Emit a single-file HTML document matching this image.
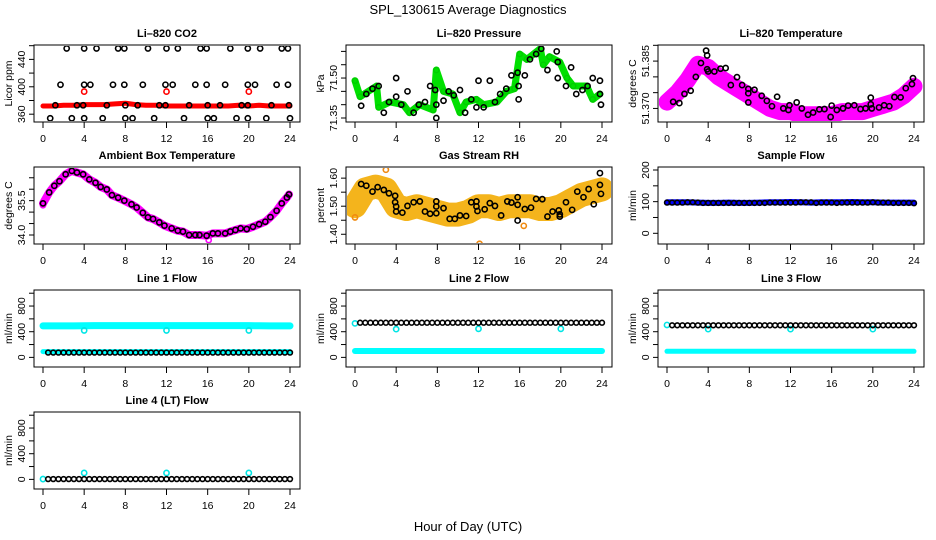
<!DOCTYPE html>
<html><head><meta charset="utf-8"><title>SPL_130615 Average Diagnostics</title>
<style>
html,body{margin:0;padding:0;background:#fff;}
svg{display:block;font-family:"Liberation Sans",Arial,sans-serif;}
</style></head>
<body>
<svg id="chart" width="936" height="540" viewBox="0 0 936 540">
<rect x="0" y="0" width="936" height="540" fill="#fff"/>
<text x="468" y="14" font-size="13" text-anchor="middle">SPL_130615  Average Diagnostics</text>
<text x="468" y="531" font-size="13" text-anchor="middle">Hour of Day (UTC)</text>
</svg>
<script>
// ---------- data ----------
const xTicks = [0,4,8,12,16,20,24];
const halfHours = [0,0.5,1,1.5,2,2.5,3,3.5,4,4.5,5,5.5,6,6.5,7,7.5,8,8.5,9,9.5,10,10.5,11,11.5,12,12.5,13,13.5,14,14.5,15,15.5,16,16.5,17,17.5,18,18.5,19,19.5,20,20.5,21,21.5,22,22.5,23,23.5,24];
const hours = [0,1,2,3,4,5,6,7,8,9,10,11,12,13,14,15,16,17,18,19,20,21,22,23,24];

// CO2
const co2RedBand = [372,372,373,373,374,374,374,375,376,374,373,373,372,372,372,372,372,372,372,373,372,373,372,372,372];
const co2RedPtH = [4,12,20];
const co2RedPtV = [393,393,393];
const co2BlackH = [2.3,4.0,5.2,7.3,7.9,10.2,12.0,13.1,15.3,15.9,18.2,19.9,21.1,23.2,23.8,
  1.7,4.0,4.6,6.8,7.9,9.7,11.9,12.6,14.8,15.9,17.7,19.9,20.6,22.7,23.8,
  1.2,3.3,3.9,6.2,8.0,9.2,11.3,11.9,14.2,16.0,17.2,19.3,19.9,22.2,23.9,
  0.7,2.8,4.0,5.8,8.0,8.7,10.8,13.7,16.0,16.6,18.8,19.9,21.7,24.0];
const co2BlackV = [456,456,456,456,456,456,456,456,456,456,456,456,456,456,456,
  403,403,403,403,403,403,403,403,403,403,403,403,403,403,403,
  373,373,373,373,373,373,373,373,373,373,373,373,373,373,373,
  354,354,354,354,354,354,354,354,354,354,354,354,354,354];

// Pressure
const pGreenH = [0,0.5,2.1,2.3,3.4,4.7,5.3,6.3,7.6,7.9,8.6,9.5,10.2,10.8,11.8,12.5,13.8,14.7,15.5,16,16.7,18,18.3,18.9,19.9,20.6,21.2,22.5,23.1,23.8];
const pGreenV = [71.49,71.43,71.47,71.39,71.41,71.40,71.37,71.40,71.38,71.53,71.45,71.44,71.37,71.41,71.42,71.40,71.41,71.45,71.46,71.59,71.57,71.61,71.55,71.58,71.56,71.50,71.47,71.47,71.42,71.44];
const pBlackH = [0.6,1.1,1.7,2.3,2.8,3.3,4.0,4.0,4.5,5.1,5.7,6.2,6.8,7.3,7.8,7.9,7.9,8.6,9.1,9.6,10.2,10.7,11.3,11.8,12.0,12.5,13.1,13.6,14.1,14.7,15.2,15.8,15.9,15.9,16.5,17.0,17.6,18.1,18.7,19.6,19.7,19.7,20.5,21.0,21.5,22.1,22.6,23.1,23.8,23.8,23.9];
const pBlackV = [71.396,71.44,71.46,71.47,71.37,71.41,71.43,71.50,71.40,71.45,71.37,71.40,71.41,71.47,71.455,71.40,71.35,71.415,71.45,71.435,71.455,71.37,71.42,71.39,71.49,71.39,71.49,71.41,71.44,71.46,71.51,71.52,71.47,71.42,71.51,71.57,71.59,71.61,71.53,71.60,71.56,71.50,71.47,71.54,71.44,71.455,71.47,71.50,71.49,71.44,71.40];

// Li-820 temperature
const tBand = [51.372,51.375,51.379,51.384,51.383,51.380,51.378,51.376,51.374,51.372,51.370,51.369,51.369,51.368,51.368,51.368,51.368,51.369,51.369,51.369,51.370,51.371,51.372,51.374,51.377];
const tBlackH = [0.6,1.2,1.7,2.3,2.8,3.3,3.8,3.9,3.9,4.0,4.6,5.2,5.7,6.2,6.8,7.3,7.9,7.9,7.9,8.5,9.2,9.7,10.2,10.7,11.3,11.8,11.9,12.6,13.1,13.7,14.2,14.8,15.3,15.9,16.0,16.5,17.1,17.6,18.2,18.8,19.3,19.8,19.8,19.9,20.6,21.1,21.6,22.1,22.7,23.2,23.8,23.9];
const tBlackV = [51.3721,51.3717,51.3746,51.3756,51.3800,51.3844,51.3883,51.3868,51.3824,51.3817,51.3817,51.3826,51.3828,51.3774,51.3799,51.3774,51.3762,51.3748,51.3719,51.3759,51.3740,51.3724,51.3707,51.3737,51.3700,51.3695,51.3710,51.3719,51.3700,51.3680,51.3687,51.3697,51.3698,51.3673,51.3709,51.3695,51.3700,51.3709,51.3710,51.3698,51.3700,51.3734,51.3713,51.3700,51.3703,51.3710,51.3707,51.3736,51.3735,51.3764,51.3777,51.3796];

// Ambient box temperature
const aH = [0,0.6,1.1,1.6,2.2,2.8,3.3,3.9,4.5,5.1,5.6,6.2,6.7,7.3,7.9,8.6,9.1,9.7,10.2,10.7,11.3,11.8,12.5,13.1,13.6,14.2,14.8,15.2,15.9,16.5,17.0,17.7,18.2,18.7,19.2,19.8,20.4,21.0,21.6,22.1,22.7,23.2,23.7,23.9];
const aV = [35.38,35.86,36.15,36.35,36.65,36.80,36.73,36.65,36.43,36.28,36.10,35.99,35.74,35.63,35.50,35.34,35.20,34.97,34.77,34.70,34.55,34.41,34.29,34.19,34.15,34.00,34.00,34.00,33.97,34.07,34.07,34.07,34.15,34.22,34.29,34.26,34.36,34.47,34.58,34.78,35.06,35.38,35.64,35.77];
const aOutH = [0,16.1];
const aOutV = [35.30,33.78];

// Gas stream RH
const rhBand = [1.50,1.56,1.57,1.56,1.50,1.49,1.50,1.49,1.48,1.47,1.47,1.48,1.50,1.50,1.49,1.50,1.50,1.50,1.49,1.49,1.50,1.52,1.54,1.55,1.56];
const rhOutH = [12.1,0.0,3.0,16.4];
const rhOutV = [1.366,1.46,1.63,1.43];
const rhBlackH = [0.6,1.1,1.7,2.2,2.8,3.3,3.9,3.9,4.0,4.0,4.6,5.1,5.7,6.3,6.8,7.3,7.9,7.9,7.9,8.6,9.2,9.7,10.2,10.8,11.3,11.8,11.8,11.9,12.6,13.1,13.6,14.2,14.8,15.2,15.8,15.8,15.8,16.5,17.1,17.6,18.2,18.7,19.2,19.8,19.9,19.9,20.5,21.1,21.6,22.2,22.7,23.2,23.8,23.8,23.9];
const rhBlackV = [1.579,1.573,1.552,1.568,1.558,1.546,1.537,1.514,1.499,1.481,1.477,1.501,1.514,1.517,1.481,1.473,1.517,1.499,1.475,1.493,1.455,1.455,1.467,1.465,1.514,1.517,1.499,1.483,1.489,1.511,1.501,1.467,1.517,1.513,1.505,1.532,1.449,1.490,1.495,1.526,1.525,1.463,1.481,1.485,1.471,1.463,1.514,1.487,1.552,1.532,1.561,1.507,1.618,1.576,1.544];

// Sample flow
const sBlue = [98,98,98,97,96,96,97,96,96,97,98,98,99,98,97,98,98,98,99,98,98,97,97,97,97];
const sBlack = [97,97,97,97,98,98,97,96,96,96,96,96,96,96,96,96,96,96,96,96,97,97,97,97,97,97,98,98,98,96,97,97,97,96,97,97,97,97,97,97,98,97,97,97,96,96,96,96,95];

// Line flows (ml/min)
const l1CyanHi = [490,490,490,490,492,495,495,495,495,495,495,495,495,495,495,495,495,495,495,495,495,492,490,490,490];
const l1CyanLo = [90,90,90,90,90,90,90,90,90,90,90,90,90,90,90,90,90,90,90,90,90,90,90,90,90];
const l1Black = [75,75,75,75,75,75,75,75,75,75,75,75,75,75,75,75,75,75,75,75,75,75,75,75,75,75,75,75,75,75,75,75,75,75,75,75,75,75,75,75,75,75,75,75,75,75,75,75,75];
const l2CyanLo = [100,100,100,100,100,100,100,100,100,100,100,100,100,100,100,100,100,100,100,100,100,100,100,100,100];
const l2Black = [540,540,540,540,540,540,540,540,540,540,540,540,540,540,540,540,540,540,540,540,540,540,540,540,540,540,540,540,540,540,540,540,540,540,540,540,540,540,540,540,540,540,540,540,540,540,540,540,540];
const l3CyanLo = [95,95,95,95,95,95,95,95,95,95,95,95,95,95,95,95,95,95,95,95,95,95,95,95,95];
const l3Black = [500,500,500,500,500,500,500,500,500,500,500,500,500,500,500,500,500,500,500,500,500,500,500,500,500,500,500,500,500,500,500,500,500,500,500,500,500,500,500,500,500,500,500,500,500,500,500,500,500];
const l4Black = [5,5,5,5,5,5,5,5,5,5,5,5,5,5,5,5,5,5,5,5,5,5,5,5,5,5,5,5,5,5,5,5,5,5,5,5,5,5,5,5,5,5,5,5,5,5,5,5,5];
const dipH = [4,12,20];
const l1Dip = [420,420,420];
const l2Dip = [440,445,445];
const l3Dip = [440,440,440];
const l4Dip = [100,100,100];
const l2Start = [530];
const l3Start = [505];

// ---------- layout ----------
const svg = document.getElementById('chart');
const NS = 'http://www.w3.org/2000/svg';
const COLS = [34,346,658], ROWS = [45,167,290,412], PW = 266, PH = 77;

function mk(tag, attrs, parent){
  const e = document.createElementNS(NS, tag);
  for (const k in attrs) e.setAttribute(k, attrs[k]);
  (parent||svg).appendChild(e);
  return e;
}

function panel(o){
  const left = COLS[o.col], top = ROWS[o.row];
  const g = mk('g', {});
  
  
  const xs = h => left + 9 + h * (247/24);
  const ys = v => top + PH - (v - o.ymin) / (o.ymax - o.ymin) * PH;
  const p = {g, xs, ys};
  // title
  const t = mk('text', {x: left + PW/2, y: top - 8, 'font-size': 11, 'font-weight': 'bold', 'text-anchor': 'middle'}, g);
  t.textContent = o.title;
  
  
  // box
  const box = mk('rect', {x: left, y: top, width: PW, height: PH, fill: 'none', stroke: '#000', 'stroke-width': 1}, g);
  
  
  // x axis
  const xa = mk('g', {}, g);
  
  
  xTicks.forEach(h => {
    mk('line', {x1: xs(h), x2: xs(h), y1: top+PH, y2: top+PH+6, stroke: '#000'}, xa);
    const tl = mk('text', {x: xs(h), y: top+PH+20, 'font-size': 10.5, 'text-anchor': 'middle'}, xa);
    tl.textContent = h;
    
    
  });
  // y axis
  const ya = mk('g', {}, g);
  
  
  o.yticks.forEach(v => {
    mk('line', {x1: left-5, x2: left, y1: ys(v), y2: ys(v), stroke: '#000'}, ya);
  });
  o.ylabels.forEach((lab, i) => {
    const v = o.ylabelVals[i];
    const tl = mk('text', {x: left-9, y: ys(v), 'font-size': 10.5, 'text-anchor': 'middle', transform: `rotate(-90 ${left-9} ${ys(v)})`}, ya);
    tl.textContent = lab;
    
    
  });
  const yt = mk('text', {x: left-22, y: top+PH/2, 'font-size': 10.5, 'text-anchor': 'middle', transform: `rotate(-90 ${left-22} ${top+PH/2})`}, ya);
  yt.textContent = o.ytitle;
  
  
  // clip
  const cid = 'clip-' + o.name;
  const cp = mk('clipPath', {id: cid}, g);
  mk('rect', {x: left+1, y: top+1, width: PW-2, height: PH-2}, cp);
  p.data = mk('g', {'clip-path': `url(#${cid})`}, g);
  
  
  return p;
}

function band(p, hs, vs, color, width, name){
  const pts = hs.map((h,i) => p.xs(h).toFixed(1) + ',' + p.ys(vs[i]).toFixed(1)).join(' ');
  const pl = mk('polyline', {points: pts, fill: 'none', stroke: color, 'stroke-width': width, 'stroke-linejoin': 'round', 'stroke-linecap': 'round'}, p.data);
  
  
}
function pts(p, hs, vs, color, name, r, sw){
  hs.forEach((h,i) => {
    const c = mk('circle', {cx: p.xs(h), cy: p.ys(vs[i]), r: r||2.6, fill: 'none', stroke: color, 'stroke-width': sw||1.6}, p.data);
    
    
  });
}

// CO2
let p = panel({name:'co2', title:'Li\u2013820 CO2', col:0, row:0, ymin:348.6, ymax:461, ytitle:'Licor ppm',
  yticks:[360,380,400,420,440,460], ylabels:['360','400','440'], ylabelVals:[360,400,440]});
band(p, hours, co2RedBand, '#ff0000', 5, 'co2-red-band');
pts(p, co2RedPtH, co2RedPtV, '#ff0000', 'co2-red-point');
pts(p, co2BlackH, co2BlackV, '#000', 'co2-point');

// Pressure
p = panel({name:'pressure', title:'Li\u2013820 Pressure', col:1, row:0, ymin:71.335, ymax:71.624, ytitle:'kPa',
  yticks:[71.35,71.40,71.45,71.50,71.55,71.60], ylabels:['71.35','71.50'], ylabelVals:[71.35,71.50]});
band(p, pGreenH, pGreenV, '#00e000', 7, 'pressure-green-band');
pts(p, pGreenH, pGreenV, '#00cc00', 'pressure-green-point', 2.6, 1.4);
pts(p, pBlackH, pBlackV, '#000', 'pressure-point');

// Li-820 temperature
p = panel({name:'li820-temp', title:'Li\u2013820 Temperature', col:2, row:0, ymin:51.3657, ymax:51.3901, ytitle:'degrees C',
  yticks:[51.370,51.375,51.380,51.385,51.390], ylabels:['51.370','51.385'], ylabelVals:[51.370,51.385]});
band(p, hours, tBand, '#ff00ff', 17, 'li820-temp-band');
pts(p, tBlackH, tBlackV, '#000', 'li820-temp-point');

// Ambient
p = panel({name:'ambient-temp', title:'Ambient Box Temperature', col:0, row:1, ymin:33.607, ymax:36.97, ytitle:'degrees C',
  yticks:[34.0,34.5,35.0,35.5,36.0,36.5], ylabels:['34.0','35.5'], ylabelVals:[34.0,35.5]});
band(p, aH, aV, '#ff00ff', 8, 'ambient-temp-band');
pts(p, aOutH, aOutV, '#ff00ff', 'ambient-temp-magenta-point');
pts(p, aH, aV, '#000', 'ambient-temp-point');

// RH
p = panel({name:'rh', title:'Gas Stream RH', col:1, row:1, ymin:1.3653, ymax:1.6397, ytitle:'percent',
  yticks:[1.40,1.45,1.50,1.55,1.60], ylabels:['1.40','1.50','1.60'], ylabelVals:[1.40,1.50,1.60]});
band(p, hours, rhBand, '#f4b41c', 24, 'rh-orange-band');
pts(p, rhOutH, rhOutV, '#f08a10', 'rh-orange-point');
pts(p, rhBlackH, rhBlackV, '#000', 'rh-point');

// Sample flow
p = panel({name:'sample-flow', title:'Sample Flow', col:2, row:1, ymin:-33.8, ymax:209.5, ytitle:'ml/min',
  yticks:[0,50,100,150,200], ylabels:['0','100','200'], ylabelVals:[0,100,200]});
band(p, hours, sBlue, '#0000ff', 6, 'sample-flow-blue-band');
pts(p, halfHours, sBlack, '#000', 'sample-flow-point', 2.4, 1.6);

const flowTicks = [0,200,400,600,800,1000];
function flowPanel(name, title, col, row){
  return panel({name, title, col, row, ymin:-150, ymax:1050, ytitle:'ml/min',
    yticks:flowTicks, ylabels:['0','400','800'], ylabelVals:[0,400,800]});
}
// Line 1
p = flowPanel('line1-flow', 'Line 1 Flow', 0, 2);
band(p, hours, l1CyanHi, '#00ffff', 7, 'line1-cyan-high-band');
band(p, hours, l1CyanLo, '#00ffff', 5, 'line1-cyan-low-band');
pts(p, dipH, l1Dip, '#00e5e5', 'line1-cyan-dip');
pts(p, halfHours.slice(1), l1Black.slice(1), '#000', 'line1-point', 2.4, 1.6);

// Line 2
p = flowPanel('line2-flow', 'Line 2 Flow', 1, 2);
band(p, hours, l2CyanLo, '#00ffff', 6, 'line2-cyan-low-band');
pts(p, [0], l2Start, '#00e5e5', 'line2-cyan-start');
pts(p, dipH, l2Dip, '#00e5e5', 'line2-cyan-dip');
pts(p, halfHours.slice(1), l2Black.slice(1), '#000', 'line2-point', 2.4, 1.6);

// Line 3
p = flowPanel('line3-flow', 'Line 3 Flow', 2, 2);
band(p, hours, l3CyanLo, '#00ffff', 5, 'line3-cyan-low-band');
pts(p, [0], l3Start, '#00e5e5', 'line3-cyan-start');
pts(p, dipH, l3Dip, '#00e5e5', 'line3-cyan-dip');
pts(p, halfHours.slice(1), l3Black.slice(1), '#000', 'line3-point', 2.4, 1.6);

// Line 4
p = flowPanel('line4-flow', 'Line 4 (LT) Flow', 0, 3);
pts(p, dipH, l4Dip, '#00e5e5', 'line4-cyan-spike');
pts(p, [0], [5], '#00e5e5', 'line4-cyan-start');
pts(p, halfHours.slice(1), l4Black.slice(1), '#000', 'line4-point', 2.4, 1.6);
</script>
</body></html>
